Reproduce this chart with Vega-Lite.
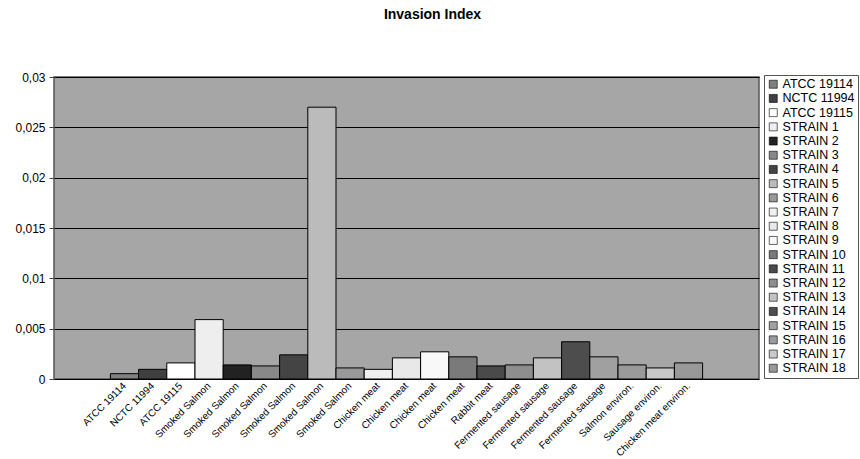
{
  "$schema": "https://vega.github.io/schema/vega-lite/v6.json",
  "autosize": {"type": "none"},
  "width": 705,
  "height": 302,
  "padding": {"left": 54, "top": 77, "right": 101, "bottom": 80},
  "background": "white",
  "title": {"text": "Invasion Index", "fontSize": 14, "fontWeight": "bold", "font": "Liberation Sans", "color": "#000", "anchor": "middle", "dx": 26, "offset": 49},
  "data": {"values": [
    {"strain": "ATCC 19114", "source": "ATCC 19114", "index": 0.00053},
    {"strain": "NCTC 11994", "source": "NCTC 11994", "index": 0.00096},
    {"strain": "ATCC 19115", "source": "ATCC 19115", "index": 0.0016},
    {"strain": "STRAIN 1", "source": "Smoked Salmon", "index": 0.0059},
    {"strain": "STRAIN 2", "source": "Smoked Salmon", "index": 0.0014},
    {"strain": "STRAIN 3", "source": "Smoked Salmon", "index": 0.0013},
    {"strain": "STRAIN 4", "source": "Smoked Salmon", "index": 0.0024},
    {"strain": "STRAIN 5", "source": "Smoked Salmon", "index": 0.027},
    {"strain": "STRAIN 6", "source": "Smoked Salmon", "index": 0.0011},
    {"strain": "STRAIN 7", "source": "Chicken meat", "index": 0.00096},
    {"strain": "STRAIN 8", "source": "Chicken meat", "index": 0.0021},
    {"strain": "STRAIN 9", "source": "Chicken meat", "index": 0.0027},
    {"strain": "STRAIN 10", "source": "Chicken meat", "index": 0.0022},
    {"strain": "STRAIN 11", "source": "Rabbit meat", "index": 0.0013},
    {"strain": "STRAIN 12", "source": "Fermented sausage", "index": 0.0014},
    {"strain": "STRAIN 13", "source": "Fermented sausage", "index": 0.0021},
    {"strain": "STRAIN 14", "source": "Fermented sausage", "index": 0.0037},
    {"strain": "STRAIN 15", "source": "Fermented sausage", "index": 0.0022},
    {"strain": "STRAIN 16", "source": "Salmon environ.", "index": 0.0014},
    {"strain": "STRAIN 17", "source": "Sausage environ.", "index": 0.0011},
    {"strain": "STRAIN 18", "source": "Chicken meat environ.", "index": 0.0016}
  ]},
  "mark": {"type": "bar", "stroke": "#000", "strokeWidth": 1},
  "encoding": {
    "x": {
      "field": "strain", "type": "nominal", "sort": null,
      "scale": {
        "paddingInner": 0, "paddingOuter": 0,
        "domain": ["pad1","pad2","ATCC 19114","NCTC 11994","ATCC 19115","STRAIN 1","STRAIN 2","STRAIN 3","STRAIN 4","STRAIN 5","STRAIN 6","STRAIN 7","STRAIN 8","STRAIN 9","STRAIN 10","STRAIN 11","STRAIN 12","STRAIN 13","STRAIN 14","STRAIN 15","STRAIN 16","STRAIN 17","STRAIN 18","pad3","pad4"]
      },
      "axis": {
        "title": null, "domain": false, "ticks": false, "grid": false,
        "values": ["ATCC 19114","NCTC 11994","ATCC 19115","STRAIN 1","STRAIN 2","STRAIN 3","STRAIN 4","STRAIN 5","STRAIN 6","STRAIN 7","STRAIN 8","STRAIN 9","STRAIN 10","STRAIN 11","STRAIN 12","STRAIN 13","STRAIN 14","STRAIN 15","STRAIN 16","STRAIN 17","STRAIN 18"],
        "labelAngle": -45, "labelFontSize": 10, "labelFont": "Liberation Sans", "labelColor": "#000",
        "labelAlign": "right", "labelBaseline": "middle",
        "labelPadding": 5, "labelLimit": 200, "labelBound": false, "labelOverlap": false,
        "labelExpr": "['ATCC 19114','NCTC 11994','ATCC 19115','Smoked Salmon','Smoked Salmon','Smoked Salmon','Smoked Salmon','Smoked Salmon','Smoked Salmon','Chicken meat','Chicken meat','Chicken meat','Chicken meat','Rabbit meat','Fermented sausage','Fermented sausage','Fermented sausage','Fermented sausage','Salmon environ.','Sausage environ.','Chicken meat environ.'][indexof(['ATCC 19114','NCTC 11994','ATCC 19115','STRAIN 1','STRAIN 2','STRAIN 3','STRAIN 4','STRAIN 5','STRAIN 6','STRAIN 7','STRAIN 8','STRAIN 9','STRAIN 10','STRAIN 11','STRAIN 12','STRAIN 13','STRAIN 14','STRAIN 15','STRAIN 16','STRAIN 17','STRAIN 18'], datum.value)]"
      }
    },
    "y": {
      "field": "index", "type": "quantitative",
      "scale": {"domain": [0, 0.03], "nice": false},
      "axis": {
        "title": null, "values": [0, 0.005, 0.01, 0.015, 0.02, 0.025, 0.03],
        "labelExpr": "replace(format(datum.value, '~r'), '.', ',')",
        "domain": false, "ticks": true, "tickSize": 5, "tickColor": "#444",
        "grid": true, "gridColor": "#000", "gridWidth": 1, "gridOpacity": 1,
        "labelFontSize": 12, "labelFont": "Liberation Sans", "labelColor": "#000", "labelPadding": 4
      }
    },
    "color": {
      "field": "strain", "type": "nominal", "sort": null,
      "scale": {
        "domain": ["ATCC 19114","NCTC 11994","ATCC 19115","STRAIN 1","STRAIN 2","STRAIN 3","STRAIN 4","STRAIN 5","STRAIN 6","STRAIN 7","STRAIN 8","STRAIN 9","STRAIN 10","STRAIN 11","STRAIN 12","STRAIN 13","STRAIN 14","STRAIN 15","STRAIN 16","STRAIN 17","STRAIN 18"],
        "range": ["#808080","#404040","#ffffff","#eeeeee","#222222","#888888","#444444","#bbbbbb","#999999","#f0f0f0","#e8e8e8","#f8f8f8","#7a7a7a","#4a4a4a","#8e8e8e","#c2c2c2","#4d4d4d","#a0a0a0","#9a9a9a","#c8c8c8","#999999"]
      },
      "legend": {
        "title": null, "orient": "none", "legendX": 710, "legendY": -2,
        "symbolType": "square", "symbolSize": 64, "symbolStrokeColor": "#000", "symbolStrokeWidth": 0.6,
        "symbolOpacity": 1,
        "labelFontSize": 12.5, "labelFont": "Liberation Sans", "labelColor": "#000", "labelOffset": 3,
        "rowPadding": 1.2, "padding": 3, "strokeColor": "#555", "fillColor": "#fff"
      }
    }
  },
  "config": {
    "view": {"fill": "#a6a6a6", "stroke": "#555", "strokeWidth": 1.5}
  }
}
